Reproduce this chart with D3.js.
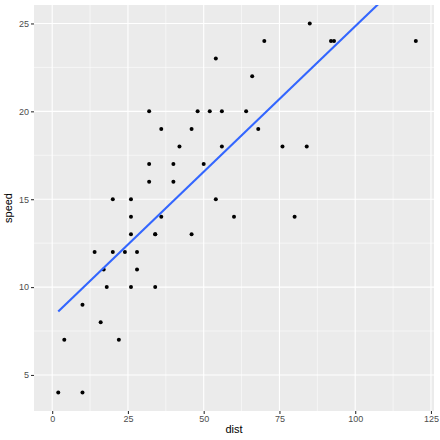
<!DOCTYPE html>
<html><head><meta charset="utf-8">
<script src="https://cdn.jsdelivr.net/npm/d3@7"></script>
<style>body{margin:0;background:#fff}svg{display:block}</style>
</head><body>
<script>
const speed = [4,4,7,7,8,9,10,10,10,11,11,12,12,12,12,13,13,13,13,14,14,14,14,15,15,15,16,16,17,17,17,18,18,18,18,19,19,19,20,20,20,20,20,22,23,24,24,24,24,25];
const dist = [2,10,4,22,16,10,18,26,34,17,28,14,20,24,28,26,34,34,46,26,36,60,80,20,26,54,32,40,32,40,50,42,56,76,84,36,46,68,32,48,52,56,64,66,54,70,92,93,120,85];
const xTicks = [0,25,50,75,100,125];
const yTicks = [5,10,15,20,25];
const xMinor = [12.5,37.5,62.5,87.5,112.5];
const yMinor = [7.5,12.5,17.5,22.5];

const W=440,H=440;
const panel={l:34,t:5,r:434,b:411};
const svg=d3.select("body").append("svg").attr("width",W).attr("height",H);

const xr=[0,120], yr=[4,25];
const xe=(xr[1]-xr[0])*0.05, ye=(yr[1]-yr[0])*0.05;
const x=d3.scaleLinear().domain([xr[0]-xe,xr[1]+xe]).range([panel.l,panel.r]);
const y=d3.scaleLinear().domain([yr[0]-ye,yr[1]+ye]).range([panel.b,panel.t]);

svg.append("rect").attr("x",panel.l).attr("y",panel.t).attr("width",panel.r-panel.l).attr("height",panel.b-panel.t).attr("fill","#EBEBEB");
const g=svg.append("g");
g.selectAll(".xmn").data(xMinor).join("line").attr("x1",d=>x(d)).attr("x2",d=>x(d)).attr("y1",panel.t).attr("y2",panel.b).attr("stroke","#fff").attr("stroke-width",0.55);
g.selectAll(".ymn").data(yMinor).join("line").attr("y1",d=>y(d)).attr("y2",d=>y(d)).attr("x1",panel.l).attr("x2",panel.r).attr("stroke","#fff").attr("stroke-width",0.55);
g.selectAll(".xmj").data(xTicks).join("line").attr("x1",d=>x(d)).attr("x2",d=>x(d)).attr("y1",panel.t).attr("y2",panel.b).attr("stroke","#fff").attr("stroke-width",1.1);
g.selectAll(".ymj").data(yTicks).join("line").attr("y1",d=>y(d)).attr("y2",d=>y(d)).attr("x1",panel.l).attr("x2",panel.r).attr("stroke","#fff").attr("stroke-width",1.1);

// regression speed ~ dist
const n=speed.length;
const mx=d3.mean(dist), my=d3.mean(speed);
let sxy=0,sxx=0;
for(let i=0;i<n;i++){sxy+=(dist[i]-mx)*(speed[i]-my);sxx+=(dist[i]-mx)**2;}
const b=sxy/sxx, a=my-b*mx;
const lx=[d3.min(dist),d3.max(dist)];
svg.append("clipPath").attr("id","clip").append("rect").attr("x",panel.l).attr("y",panel.t).attr("width",panel.r-panel.l).attr("height",panel.b-panel.t);

svg.append("g").selectAll("circle").data(dist.map((d,i)=>[d,speed[i]])).join("circle")
  .attr("cx",d=>x(d[0])).attr("cy",d=>y(d[1])).attr("r",2).attr("fill","#000");

svg.append("line").attr("clip-path","url(#clip)")
  .attr("x1",x(lx[0])).attr("y1",y(a+b*lx[0])).attr("x2",x(lx[1])).attr("y2",y(a+b*lx[1]))
  .attr("stroke","#3366FF").attr("stroke-width",2.1);

const xa=svg.append("g").attr("transform",`translate(0,${panel.b})`)
  .call(d3.axisBottom(x).tickValues(xTicks).tickSize(3).tickPadding(2));
const ya=svg.append("g").attr("transform",`translate(${panel.l},0)`)
  .call(d3.axisLeft(y).tickValues(yTicks).tickSize(3).tickPadding(2));
[xa,ya].forEach(a=>{a.select(".domain").remove();
  a.selectAll(".tick line").attr("stroke","#333").attr("stroke-width",1.1);
  a.selectAll("text").attr("fill","#4D4D4D").style("font-family","Liberation Sans, Arial, sans-serif").style("font-size","9px");});

svg.append("text").attr("x",(panel.l+panel.r)/2).attr("y",433).attr("text-anchor","middle")
  .style("font-family","Liberation Sans, Arial, sans-serif").style("font-size","11px").attr("fill","#000").text("dist");
svg.append("text").attr("transform",`translate(12,${(panel.t+panel.b)/2}) rotate(-90)`).attr("text-anchor","middle")
  .style("font-family","Liberation Sans, Arial, sans-serif").style("font-size","11px").attr("fill","#000").text("speed");
</script>
</body></html>
